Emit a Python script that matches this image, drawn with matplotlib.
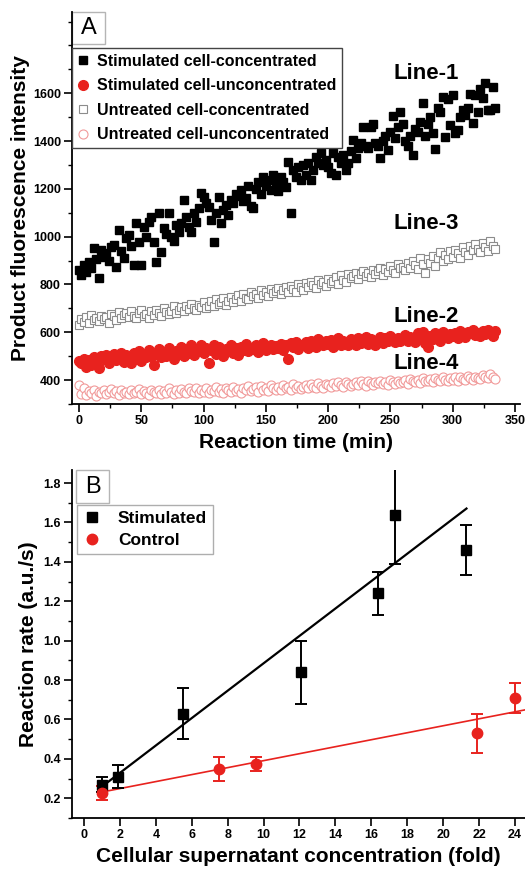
import numpy as np
import matplotlib
matplotlib.use("Agg")
import matplotlib.pyplot as plt
from matplotlib.lines import Line2D
from matplotlib.patches import Rectangle
from matplotlib.ticker import MultipleLocator

plt.rcParams["font.family"] = ["Liberation Sans", "DejaVu Sans"]
plt.rcParams["font.weight"] = "bold"

# ---- panel A data: readings every 2 min ----
step_min = 2
stim_conc = [
    862, 840, 880, 854, 896, 870, 954, 905, 829, 946,
    917, 930, 900, 955, 967, 875, 1029, 940, 912, 996,
    1008, 960, 883, 1058, 979, 883, 1042, 1000, 1060, 1083,
    979, 896, 1100, 938, 1038, 1010, 1100, 1000, 980, 1050,
    1020, 1058, 1154, 1083, 1040, 1021, 1100, 1060, 1120, 1183,
    1167, 1142, 1125, 1071, 979, 1100, 1167, 1058, 1110, 1133,
    1090, 1154, 1140, 1180, 1170, 1196, 1150, 1160, 1210, 1130,
    1121, 1200, 1229, 1180, 1250, 1210, 1237, 1195, 1260, 1220,
    1190, 1250, 1230, 1208, 1313, 1100, 1280, 1250, 1292, 1237,
    1300, 1260, 1308, 1237, 1280, 1333, 1310, 1350, 1300, 1320,
    1290, 1267, 1350, 1258, 1333, 1310, 1342, 1280, 1308, 1360,
    1404, 1330, 1371, 1390, 1458, 1380, 1370, 1460, 1471, 1390,
    1380, 1329, 1400, 1420, 1362, 1440, 1504, 1412, 1460, 1521,
    1470, 1400, 1380, 1420, 1342, 1450, 1437, 1480, 1558, 1420,
    1470, 1500, 1433, 1367, 1540, 1521, 1584, 1417, 1575, 1467,
    1592, 1433, 1446, 1500, 1530, 1510, 1540, 1596, 1475, 1592,
    1520, 1617, 1579, 1642, 1530, 1529, 1625, 1540,
]
stim_unconc = [
    478, 470, 490, 455, 485, 462, 495, 480, 450, 500,
    488, 505, 470, 498, 510, 482, 495, 515, 475, 505,
    498, 470, 512, 490, 520, 480, 505, 495, 525, 500,
    465, 510, 530, 495, 515, 500, 535, 508, 490, 522,
    510, 540, 500, 525, 515, 545, 505, 530, 520, 548,
    512, 535, 470, 525, 545, 510, 538, 520, 500, 530,
    525, 545, 515, 535, 505, 540, 528, 550, 520, 535,
    530, 545, 518, 540, 555, 525, 538, 548, 530, 542,
    535, 550, 528, 545, 490, 555, 540, 560, 532, 548,
    545, 558, 535, 565, 548, 540, 570, 552, 545, 562,
    550, 568, 540, 558, 575, 548, 562, 555, 545, 570,
    560, 548, 575, 555, 565, 580, 552, 570, 560, 545,
    568, 580, 555, 575, 562, 585, 570, 558, 578, 565,
    575, 590, 565, 582, 570, 560, 595, 578, 600, 555,
    540, 585, 572, 595, 580, 565, 600, 588, 575, 592,
    585, 598, 578, 605, 590, 582, 600, 595, 610, 588,
    598, 585, 605, 592, 610, 595, 585, 605,
]
untr_conc = [
    630, 655, 645, 665, 640, 672, 650, 660, 648, 670,
    655, 662, 640, 675, 668, 650, 685, 660, 672, 680,
    665, 690, 670, 658, 682, 695, 668, 675, 660, 688,
    672, 695, 680, 668, 700, 685, 675, 690, 710, 682,
    695, 705, 688, 712, 698, 720, 700, 692, 715, 705,
    725, 700, 712, 730, 708, 740, 718, 728, 745, 715,
    732, 748, 725, 740, 755, 730, 760, 745, 738, 768,
    750, 762, 745, 775, 758, 770, 752, 780, 765, 772,
    785, 760, 778, 790, 770, 795, 782, 768, 800, 788,
    775, 805, 790, 812, 798, 785, 820, 802, 810, 795,
    825, 808, 815, 830, 800, 838, 820, 812, 845, 828,
    835, 850, 822, 842, 858, 835, 848, 830, 862, 845,
    855, 870, 840, 865, 852, 878, 860, 848, 885, 868,
    875, 860, 890, 870, 898, 880, 865, 912, 885, 850,
    905, 890, 920, 878, 910, 935, 898, 922, 905, 940,
    915, 945, 930, 910, 955, 938, 925, 960, 945, 970,
    950, 935, 975, 958, 940, 980, 962, 948,
]
untr_unconc = [
    380, 342, 365, 338, 355, 348, 360, 335, 352, 345,
    358, 340, 350, 362, 345, 355, 338, 360, 348, 352,
    342, 358, 345, 350, 362, 340, 355, 348, 338, 357,
    350, 345, 360, 342, 355, 348, 365, 352, 340, 358,
    348, 362, 352, 345, 365, 355, 350, 368, 345, 358,
    352, 366, 348, 360, 355, 370, 350, 362, 345, 368,
    358, 350, 372, 355, 362, 348, 368, 360, 375, 355,
    362, 370, 352, 375, 360, 368, 355, 378, 365, 360,
    372, 358, 378, 365, 370, 360, 382, 368, 375, 362,
    370, 380, 365, 385, 372, 368, 388, 375, 365, 382,
    378, 370, 388, 375, 392, 380, 372, 390, 382, 375,
    385, 392, 378, 395, 384, 375, 398, 388, 380, 392,
    386, 398, 382, 392, 378, 400, 390, 385, 395, 388,
    392, 400, 385, 405, 395, 390, 402, 388, 408, 395,
    398, 405, 392, 410, 400, 395, 412, 402, 398, 408,
    402, 412, 398, 415, 405, 400, 418, 408, 402, 415,
    410, 405, 420, 412, 408, 425, 415, 405,
]

# ---- panel B data ----
stim_x = [1.0, 1.9, 5.5, 12.1, 16.4, 17.3, 21.3]
stim_y = [0.27, 0.31, 0.63, 0.84, 1.24, 1.64, 1.46]
stim_err = [0.04, 0.06, 0.13, 0.16, 0.11, 0.25, 0.125]
ctrl_x = [1.0, 7.5, 9.6, 21.9, 24.0]
ctrl_y = [0.225, 0.35, 0.375, 0.53, 0.71]
ctrl_err = [0.035, 0.06, 0.035, 0.10, 0.075]
stim_fit = (0.0695, 0.19)     # slope, intercept
ctrl_fit = (0.0177, 0.214)

red = "#e8221e"
pink = "#f19a9a"
gray = "#8c8c8c"

fig = plt.figure(figsize=(5.25, 8.76), dpi=100)

# ================= panel A =================
axA = fig.add_axes([72/525, 472/876, 448/525, 392/876])
t = np.arange(len(stim_conc)) * step_min
axA.plot(t, untr_unconc, ls="none", marker="o", ms=6.5, mfc="white", mec=pink, mew=0.8, label="Untreated cell-unconcentrated")
axA.plot(t, untr_conc, ls="none", marker="s", ms=6, mfc="white", mec=gray, mew=0.8, label="Untreated cell-concentrated")
axA.plot(t, stim_unconc, ls="none", marker="o", ms=7, color=red, mec=red, label="Stimulated cell-unconcentrated")
axA.plot(t, stim_conc, ls="none", marker="s", ms=6, color="black", mec="black", label="Stimulated cell-concentrated")

axA.set_xlim(-5.6, 354)
axA.set_ylim(300, 1940)
axA.xaxis.set_major_locator(MultipleLocator(50))
axA.xaxis.set_minor_locator(MultipleLocator(25))
axA.set_yticks([400, 600, 800, 1000, 1200, 1400, 1600])
axA.yaxis.set_minor_locator(MultipleLocator(100))
axA.set_xlabel("Reaction time (min)", fontsize=15, fontweight="bold", labelpad=4)
axA.set_ylabel("Product fluorescence intensity", fontsize=15, fontweight="bold", labelpad=2)

for lbl, yy in [("Line-1", 1683), ("Line-3", 1057), ("Line-2", 665), ("Line-4", 470)]:
    axA.text(279, yy, lbl, fontsize=16, fontweight="bold", ha="center", va="center")

hA, lA = axA.get_legend_handles_labels()
legA = axA.legend(hA[::-1], lA[::-1], loc="upper left", bbox_to_anchor=(0, 0.908), borderaxespad=0,
                  fontsize=11.5, frameon=True, fancybox=False, edgecolor="#444444",
                  handlelength=0.7, handletextpad=0.5, labelspacing=0.6, borderpad=0.35)
legA.get_frame().set_linewidth(1.0)
legA.get_frame().set_alpha(1)
for txt in legA.get_texts():
    txt.set_fontweight("bold")

axA.add_patch(Rectangle((0, 0.918), 0.0737, 0.082, transform=axA.transAxes, fill=False,
                        edgecolor="#b5b5b5", lw=1, clip_on=False))
axA.text(0.0369, 0.958, "A", transform=axA.transAxes, fontsize=17, fontweight="normal",
         ha="center", va="center")

# ================= panel B =================
axB = fig.add_axes([72/525, 58/876, 453/525, 348/876])
axB.errorbar(stim_x, stim_y, yerr=stim_err, fmt="s", ms=7, color="black", ecolor="black",
             elinewidth=1.4, capsize=4, capthick=1.4, zorder=3)
axB.errorbar(ctrl_x, ctrl_y, yerr=ctrl_err, fmt="o", ms=7.5, color=red, ecolor=red,
             elinewidth=1.4, capsize=4, capthick=1.4, zorder=3)
xs = np.array([stim_x[0], stim_x[-1]])
axB.plot(xs, stim_fit[0]*xs + stim_fit[1], color="black", lw=1.6, zorder=2)
xc = np.array([ctrl_x[0], 24.6])
axB.plot(xc, ctrl_fit[0]*xc + ctrl_fit[1], color=red, lw=1.2, zorder=2)

axB.set_xlim(-0.67, 24.56)
axB.set_ylim(0.1, 1.866)
axB.xaxis.set_major_locator(MultipleLocator(2))
axB.set_yticks([0.2, 0.4, 0.6, 0.8, 1.0, 1.2, 1.4, 1.6, 1.8])
axB.yaxis.set_minor_locator(MultipleLocator(0.1))
axB.set_xlabel("Cellular supernatant concentration (fold)", fontsize=15, fontweight="bold", labelpad=4)
axB.set_ylabel("Reaction rate (a.u./s)", fontsize=15, fontweight="bold", labelpad=4)

handlesB = [Line2D([], [], ls="none", marker="s", ms=7, color="black"),
            Line2D([], [], ls="none", marker="o", ms=7.5, color=red)]
legB = axB.legend(handlesB, ["Stimulated", "Control"], loc="upper left",
                  bbox_to_anchor=(0.011, 0.899), borderaxespad=0, fontsize=12.5,
                  frameon=True, fancybox=False, edgecolor="#9a9a9a",
                  handlelength=1.0, handletextpad=1.0, labelspacing=0.35, borderpad=0.35)
legB.get_frame().set_linewidth(1.0)
for txt in legB.get_texts():
    txt.set_fontweight("bold")

axB.add_patch(Rectangle((0.0088, 0.905), 0.0728, 0.095, transform=axB.transAxes, fill=False,
                        edgecolor="#b5b5b5", lw=1, clip_on=False))
axB.text(0.0452, 0.952, "B", transform=axB.transAxes, fontsize=17, fontweight="normal",
         ha="center", va="center")

for ax in (axA, axB):
    for s in ("top", "right"):
        ax.spines[s].set_visible(False)
    for s in ("left", "bottom"):
        ax.spines[s].set_linewidth(1.3)
    ax.tick_params(which="major", direction="out", length=6, width=1.2, labelsize=9, pad=2)
    ax.tick_params(which="minor", direction="out", length=3, width=1.0)
    for lab in ax.get_xticklabels() + ax.get_yticklabels():
        lab.set_fontweight("bold")

fig.savefig("out.png", dpi=100)
